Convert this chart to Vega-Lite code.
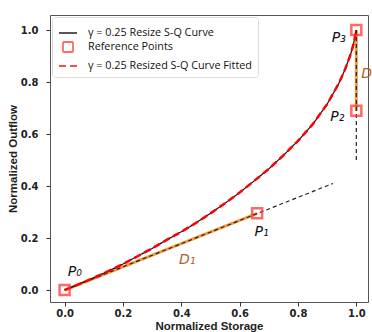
{
  "$schema": "https://vega.github.io/schema/vega-lite/v6.json",
  "width": 318,
  "height": 287,
  "autosize": {"type": "none"},
  "padding": {"left": 50, "top": 15, "right": 4, "bottom": 30},
  "background": "white",
  "config": {
    "view": {"stroke": "#555", "strokeWidth": 1},
    "axis": {
      "domain": false,
      "grid": false,
      "ticks": true,
      "tickSize": 4,
      "tickColor": "#333",
      "labelFont": "DejaVu Sans",
      "labelFontWeight": "bold",
      "labelFontSize": 10,
      "labelColor": "#222",
      "titleFont": "Liberation Sans",
      "titleFontWeight": "bold",
      "titleFontSize": 11.5,
      "titleColor": "#222"
    },
    "legend": {
      "orient": "top-left",
      "offset": 2,
      "padding": 6,
      "fillColor": "white",
      "strokeColor": "#ddd",
      "cornerRadius": 3,
      "labelFont": "Open Sans",
      "labelFontSize": 10.8,
      "labelColor": "#111",
      "labelOffset": 10,
      "labelLimit": 300,
      "rowPadding": 0,
      "symbolStrokeWidth": 1.8
    }
  },
  "datasets": {
    "curve": [
      {"s": 0, "q": 0}, {"s": 0.05, "q": 0.023}, {"s": 0.1, "q": 0.047}, {"s": 0.15, "q": 0.073},
      {"s": 0.2, "q": 0.1}, {"s": 0.25, "q": 0.13}, {"s": 0.3, "q": 0.16}, {"s": 0.35, "q": 0.193},
      {"s": 0.4, "q": 0.224}, {"s": 0.45, "q": 0.258}, {"s": 0.5, "q": 0.295}, {"s": 0.55, "q": 0.334},
      {"s": 0.6, "q": 0.375}, {"s": 0.65, "q": 0.42}, {"s": 0.7, "q": 0.466}, {"s": 0.75, "q": 0.518},
      {"s": 0.8, "q": 0.574}, {"s": 0.85, "q": 0.637}, {"s": 0.9, "q": 0.715}, {"s": 0.94, "q": 0.795},
      {"s": 0.96, "q": 0.845}, {"s": 0.98, "q": 0.905}, {"s": 0.99, "q": 0.945}, {"s": 1.0, "q": 1.0}
    ],
    "segments": [
      {"seg": "D1", "s": 0, "q": 0}, {"seg": "D1", "s": 0.66, "q": 0.295},
      {"seg": "D2", "s": 1.0, "q": 0.69}, {"seg": "D2", "s": 1.0, "q": 1.0}
    ],
    "guides": [
      {"g": "tangent", "s": 0, "q": 0}, {"g": "tangent", "s": 0.92, "q": 0.41},
      {"g": "vertical", "s": 1.0, "q": 0.5}, {"g": "vertical", "s": 1.0, "q": 1.0}
    ],
    "points": [
      {"name": "P0", "s": 0, "q": 0}, {"name": "P1", "s": 0.66, "q": 0.295},
      {"name": "P2", "s": 1.0, "q": 0.69}, {"name": "P3", "s": 1.0, "q": 1.0}
    ],
    "plabels": [
      {"t": "P₀", "s": 0.035, "q": 0.07},
      {"t": "P₁", "s": 0.675, "q": 0.225},
      {"t": "P₂", "s": 0.935, "q": 0.665},
      {"t": "P₃", "s": 0.94, "q": 0.97}
    ],
    "dlabels": [
      {"t": "D₁", "s": 0.42, "q": 0.115},
      {"t": "D₂", "s": 1.045, "q": 0.83}
    ]
  },
  "layer": [
    {
      "data": {"name": "segments"},
      "mark": {"type": "line", "color": "#f59a3e", "strokeWidth": 3, "clip": false},
      "encoding": {
        "x": {"field": "s", "type": "quantitative", "scale": {"domain": [-0.05, 1.04], "nice": false, "zero": false},
              "axis": {"values": [0, 0.2, 0.4, 0.6, 0.8, 1.0], "format": ".1f", "title": "Normalized Storage", "labelPadding": 2, "titlePadding": 2}},
        "y": {"field": "q", "type": "quantitative", "scale": {"domain": [-0.046, 1.058], "nice": false, "zero": false},
              "axis": {"values": [0, 0.2, 0.4, 0.6, 0.8, 1.0], "format": ".1f", "title": "Normalized Outflow", "labelPadding": 8, "titlePadding": 2}},
        "detail": {"field": "seg"}
      }
    },
    {
      "data": {"name": "guides"},
      "mark": {"type": "line", "color": "#222", "strokeWidth": 1.2, "strokeDash": [4, 3]},
      "encoding": {
        "x": {"field": "s", "type": "quantitative"},
        "y": {"field": "q", "type": "quantitative"},
        "detail": {"field": "g"}
      }
    },
    {
      "data": {"name": "curve"},
      "transform": [{"calculate": "'γ = 0.25 Resize S-Q Curve'", "as": "series"}],
      "mark": {"type": "line"},
      "encoding": {
        "x": {"field": "s", "type": "quantitative"},
        "y": {"field": "q", "type": "quantitative"},
        "color": {
          "field": "series", "type": "nominal",
          "scale": {
            "domain": ["γ = 0.25 Resize S-Q Curve", "Reference Points", "γ = 0.25 Resized S-Q Curve Fitted"],
            "range": ["#111111", "#ff2a2a", "#ff0000"]
          },
          "legend": {"title": null}
        },
        "strokeDash": {
          "field": "series", "type": "nominal",
          "scale": {
            "type": "ordinal",
            "domain": ["γ = 0.25 Resize S-Q Curve", "Reference Points", "γ = 0.25 Resized S-Q Curve Fitted"],
            "range": [[1, 0], [1, 0], [7, 4]]
          },
          "legend": {"title": null}
        },
        "strokeWidth": {
          "field": "series", "type": "nominal",
          "scale": {
            "type": "ordinal",
            "domain": ["γ = 0.25 Resize S-Q Curve", "Reference Points", "γ = 0.25 Resized S-Q Curve Fitted"],
            "range": [1.2, 1.5, 3]
          },
          "legend": null
        }
      }
    },
    {
      "data": {"name": "curve"},
      "transform": [{"calculate": "'γ = 0.25 Resized S-Q Curve Fitted'", "as": "series"}],
      "mark": {"type": "line"},
      "encoding": {
        "x": {"field": "s", "type": "quantitative"},
        "y": {"field": "q", "type": "quantitative"},
        "color": {"field": "series", "type": "nominal", "legend": {"title": null}},
        "strokeDash": {"field": "series", "type": "nominal", "legend": {"title": null}},
        "strokeWidth": {"field": "series", "type": "nominal", "legend": null}
      }
    },
    {
      "data": {"name": "points"},
      "transform": [{"calculate": "'Reference Points'", "as": "series"}],
      "mark": {"type": "point", "filled": false, "clip": false},
      "encoding": {
        "x": {"field": "s", "type": "quantitative"},
        "y": {"field": "q", "type": "quantitative"},
        "color": {"field": "series", "type": "nominal", "legend": {"title": null}},
        "strokeWidth": {"field": "series", "type": "nominal", "legend": null},
        "shape": {
          "field": "series", "type": "nominal",
          "scale": {
            "domain": ["γ = 0.25 Resize S-Q Curve", "Reference Points", "γ = 0.25 Resized S-Q Curve Fitted"],
            "range": ["stroke", "square", "stroke"]
          },
          "legend": {"title": null}
        },
        "size": {
          "field": "series", "type": "nominal",
          "scale": {
            "type": "ordinal",
            "domain": ["γ = 0.25 Resize S-Q Curve", "Reference Points", "γ = 0.25 Resized S-Q Curve Fitted"],
            "range": [324, 100, 324]
          },
          "legend": {"title": null}
        }
      }
    },
    {
      "data": {"name": "plabels"},
      "mark": {"type": "text", "font": "DejaVu Sans", "fontStyle": "italic", "fontSize": 14, "color": "#111", "clip": false},
      "encoding": {
        "x": {"field": "s", "type": "quantitative"},
        "y": {"field": "q", "type": "quantitative"},
        "text": {"field": "t"}
      }
    },
    {
      "data": {"name": "dlabels"},
      "mark": {"type": "text", "font": "DejaVu Sans", "fontStyle": "italic", "fontSize": 14, "color": "#b0602a", "clip": false},
      "encoding": {
        "x": {"field": "s", "type": "quantitative"},
        "y": {"field": "q", "type": "quantitative"},
        "text": {"field": "t"}
      }
    }
  ]
}
